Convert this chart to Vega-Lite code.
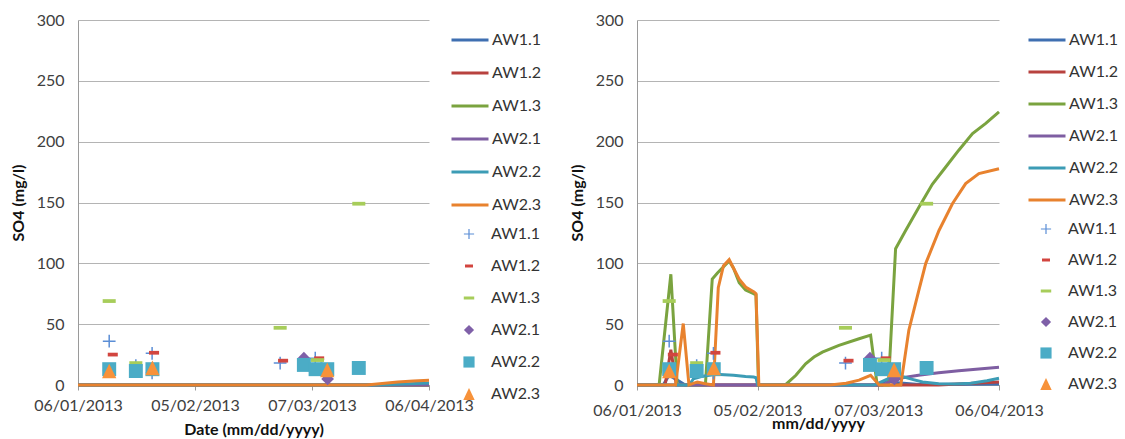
{
  "$schema": "https://vega.github.io/schema/vega-lite/v6.json",
  "background": "white",
  "padding": {"left": 10, "top": 12, "right": 2, "bottom": 4},
  "config": {
    "font": "Lato",
    "view": {"stroke": null},
    "axis": {"labelFont": "Lato", "labelFontSize": 16, "labelColor": "#404040", "titleFont": "Lato", "titleFontSize": 16, "titleFontWeight": "bold", "titleColor": "#111111", "domainColor": "#9a9a9a", "tickColor": "#9a9a9a", "gridColor": "#b4b4b4"},
    "legend": {"labelFont": "Lato", "labelFontSize": 16, "labelColor": "#333333"},
    "concat": {"spacing": 23}
  },
  "datasets": {
    "obs": [
      {"well": "AW1.1", "date": "2013-01-14T00:00:00Z", "so4": 36},
      {"well": "AW1.1", "date": "2013-01-14T00:00:00Z", "so4": 12},
      {"well": "AW1.1", "date": "2013-01-20T20:00:00Z", "so4": 16},
      {"well": "AW1.1", "date": "2013-01-25T00:00:00Z", "so4": 26},
      {"well": "AW1.1", "date": "2013-01-25T00:00:00Z", "so4": 10},
      {"well": "AW1.1", "date": "2013-02-26T20:00:00Z", "so4": 18},
      {"well": "AW1.1", "date": "2013-03-07T20:00:00Z", "so4": 22},
      {"well": "AW1.1", "date": "2013-03-11T00:00:00Z", "so4": 9},
      {"well": "AW1.2", "date": "2013-01-14T22:00:00Z", "so4": 25},
      {"well": "AW1.2", "date": "2013-01-25T12:00:00Z", "so4": 26.5},
      {"well": "AW1.2", "date": "2013-02-27T14:00:00Z", "so4": 20},
      {"well": "AW1.2", "date": "2013-03-08T20:00:00Z", "so4": 22},
      {"well": "AW1.3", "date": "2013-01-14T00:00:00Z", "so4": 69},
      {"well": "AW1.3", "date": "2013-01-20T20:00:00Z", "so4": 18},
      {"well": "AW1.3", "date": "2013-02-26T20:00:00Z", "so4": 47},
      {"well": "AW1.3", "date": "2013-03-08T10:00:00Z", "so4": 20.5},
      {"well": "AW1.3", "date": "2013-03-19T00:00:00Z", "so4": 149},
      {"well": "AW2.1", "date": "2013-03-04T22:00:00Z", "so4": 22},
      {"well": "AW2.1", "date": "2013-03-11T00:00:00Z", "so4": 5},
      {"well": "AW2.2", "date": "2013-01-14T00:00:00Z", "so4": 13},
      {"well": "AW2.2", "date": "2013-01-20T20:00:00Z", "so4": 11.5},
      {"well": "AW2.2", "date": "2013-01-25T02:00:00Z", "so4": 13},
      {"well": "AW2.2", "date": "2013-03-04T22:00:00Z", "so4": 16.5},
      {"well": "AW2.2", "date": "2013-03-07T22:00:00Z", "so4": 13},
      {"well": "AW2.2", "date": "2013-03-10T22:00:00Z", "so4": 13},
      {"well": "AW2.2", "date": "2013-03-19T00:00:00Z", "so4": 14},
      {"well": "AW2.3", "date": "2013-01-14T00:00:00Z", "so4": 11.5},
      {"well": "AW2.3", "date": "2013-01-25T02:00:00Z", "so4": 14},
      {"well": "AW2.3", "date": "2013-03-10T22:00:00Z", "so4": 12.5}
    ],
    "linesA": [
      {"well": "AW1.1", "date": "2013-01-06", "so4": 0},
      {"well": "AW1.1", "date": "2013-04-06", "so4": 0},
      {"well": "AW1.2", "date": "2013-01-06", "so4": 0},
      {"well": "AW1.2", "date": "2013-04-06", "so4": 0},
      {"well": "AW1.3", "date": "2013-01-06", "so4": 0},
      {"well": "AW1.3", "date": "2013-04-06", "so4": 0},
      {"well": "AW2.1", "date": "2013-01-06", "so4": 0},
      {"well": "AW2.1", "date": "2013-04-06", "so4": 0},
      {"well": "AW2.2", "date": "2013-01-06", "so4": 0},
      {"well": "AW2.2", "date": "2013-03-22", "so4": 0},
      {"well": "AW2.2", "date": "2013-03-27", "so4": 0.4},
      {"well": "AW2.2", "date": "2013-04-01", "so4": 1.0},
      {"well": "AW2.2", "date": "2013-04-06", "so4": 1.6},
      {"well": "AW2.3", "date": "2013-01-06", "so4": 0},
      {"well": "AW2.3", "date": "2013-03-21", "so4": 0},
      {"well": "AW2.3", "date": "2013-03-25", "so4": 1.2},
      {"well": "AW2.3", "date": "2013-03-29", "so4": 2.5},
      {"well": "AW2.3", "date": "2013-04-02", "so4": 3.3},
      {"well": "AW2.3", "date": "2013-04-06", "so4": 3.9}
    ],
    "linesB": [
      {"well": "AW1.1", "date": "2013-01-06", "so4": 0},
      {"well": "AW1.1", "date": "2013-01-12T12:00:00Z", "so4": 0},
      {"well": "AW1.1", "date": "2013-01-14", "so4": 8},
      {"well": "AW1.1", "date": "2013-01-16", "so4": 4},
      {"well": "AW1.1", "date": "2013-01-18", "so4": 0},
      {"well": "AW1.1", "date": "2013-03-07", "so4": 0},
      {"well": "AW1.1", "date": "2013-03-09", "so4": 4},
      {"well": "AW1.1", "date": "2013-03-11", "so4": 2},
      {"well": "AW1.1", "date": "2013-03-17", "so4": 0.5},
      {"well": "AW1.1", "date": "2013-04-06", "so4": 0.8},
      {"well": "AW1.2", "date": "2013-01-06", "so4": 0},
      {"well": "AW1.2", "date": "2013-01-13", "so4": 0},
      {"well": "AW1.2", "date": "2013-01-14T10:00:00Z", "so4": 29},
      {"well": "AW1.2", "date": "2013-01-15T19:00:00Z", "so4": 0},
      {"well": "AW1.2", "date": "2013-03-22", "so4": 0},
      {"well": "AW1.2", "date": "2013-04-06", "so4": 2.5},
      {"well": "AW1.3", "date": "2013-01-06", "so4": 0},
      {"well": "AW1.3", "date": "2013-01-11T12:00:00Z", "so4": 0},
      {"well": "AW1.3", "date": "2013-01-14T10:00:00Z", "so4": 91},
      {"well": "AW1.3", "date": "2013-01-16", "so4": 0},
      {"well": "AW1.3", "date": "2013-01-23", "so4": 0},
      {"well": "AW1.3", "date": "2013-01-24T17:00:00Z", "so4": 87},
      {"well": "AW1.3", "date": "2013-01-26", "so4": 92},
      {"well": "AW1.3", "date": "2013-01-28T22:00:00Z", "so4": 102},
      {"well": "AW1.3", "date": "2013-01-30", "so4": 96},
      {"well": "AW1.3", "date": "2013-01-31T10:00:00Z", "so4": 84},
      {"well": "AW1.3", "date": "2013-02-02", "so4": 78},
      {"well": "AW1.3", "date": "2013-02-04", "so4": 75},
      {"well": "AW1.3", "date": "2013-02-04T14:00:00Z", "so4": 74},
      {"well": "AW1.3", "date": "2013-02-05T05:00:00Z", "so4": 0},
      {"well": "AW1.3", "date": "2013-02-12", "so4": 0.5},
      {"well": "AW1.3", "date": "2013-02-14T12:00:00Z", "so4": 8},
      {"well": "AW1.3", "date": "2013-02-16T22:00:00Z", "so4": 17.5},
      {"well": "AW1.3", "date": "2013-02-19", "so4": 23},
      {"well": "AW1.3", "date": "2013-02-21T02:00:00Z", "so4": 27},
      {"well": "AW1.3", "date": "2013-02-25T05:00:00Z", "so4": 32.6},
      {"well": "AW1.3", "date": "2013-03-02T05:00:00Z", "so4": 38},
      {"well": "AW1.3", "date": "2013-03-05T02:00:00Z", "so4": 41},
      {"well": "AW1.3", "date": "2013-03-06T17:00:00Z", "so4": 0},
      {"well": "AW1.3", "date": "2013-03-09T12:00:00Z", "so4": 0},
      {"well": "AW1.3", "date": "2013-03-11T07:00:00Z", "so4": 112},
      {"well": "AW1.3", "date": "2013-03-13T19:00:00Z", "so4": 127},
      {"well": "AW1.3", "date": "2013-03-17T02:00:00Z", "so4": 146},
      {"well": "AW1.3", "date": "2013-03-20T10:00:00Z", "so4": 165},
      {"well": "AW1.3", "date": "2013-03-23T17:00:00Z", "so4": 179},
      {"well": "AW1.3", "date": "2013-03-27", "so4": 193},
      {"well": "AW1.3", "date": "2013-03-30T10:00:00Z", "so4": 206.6},
      {"well": "AW1.3", "date": "2013-04-02T17:00:00Z", "so4": 215},
      {"well": "AW1.3", "date": "2013-04-06", "so4": 224.5},
      {"well": "AW2.1", "date": "2013-01-06", "so4": 0},
      {"well": "AW2.1", "date": "2013-03-08", "so4": 0},
      {"well": "AW2.1", "date": "2013-03-10", "so4": 3},
      {"well": "AW2.1", "date": "2013-03-13", "so4": 6},
      {"well": "AW2.1", "date": "2013-03-17", "so4": 8},
      {"well": "AW2.1", "date": "2013-03-22", "so4": 10},
      {"well": "AW2.1", "date": "2013-03-27", "so4": 11.7},
      {"well": "AW2.1", "date": "2013-04-01", "so4": 13.2},
      {"well": "AW2.1", "date": "2013-04-06", "so4": 14.5},
      {"well": "AW2.2", "date": "2013-01-06", "so4": 0},
      {"well": "AW2.2", "date": "2013-01-19", "so4": 0},
      {"well": "AW2.2", "date": "2013-01-20", "so4": 5},
      {"well": "AW2.2", "date": "2013-01-22", "so4": 7},
      {"well": "AW2.2", "date": "2013-01-25T14:00:00Z", "so4": 8.8},
      {"well": "AW2.2", "date": "2013-01-30", "so4": 8},
      {"well": "AW2.2", "date": "2013-02-02", "so4": 7},
      {"well": "AW2.2", "date": "2013-02-04", "so4": 6.5},
      {"well": "AW2.2", "date": "2013-02-04T14:00:00Z", "so4": 6},
      {"well": "AW2.2", "date": "2013-02-05", "so4": 0},
      {"well": "AW2.2", "date": "2013-03-06", "so4": 0},
      {"well": "AW2.2", "date": "2013-03-08", "so4": 3},
      {"well": "AW2.2", "date": "2013-03-10", "so4": 6},
      {"well": "AW2.2", "date": "2013-03-13", "so4": 7},
      {"well": "AW2.2", "date": "2013-03-15", "so4": 5},
      {"well": "AW2.2", "date": "2013-03-18", "so4": 2.5},
      {"well": "AW2.2", "date": "2013-03-22", "so4": 1},
      {"well": "AW2.2", "date": "2013-03-26", "so4": 0.8},
      {"well": "AW2.2", "date": "2013-03-30", "so4": 1.5},
      {"well": "AW2.2", "date": "2013-04-03", "so4": 3.5},
      {"well": "AW2.2", "date": "2013-04-06", "so4": 5.5},
      {"well": "AW2.3", "date": "2013-01-06", "so4": 0},
      {"well": "AW2.3", "date": "2013-01-15T14:00:00Z", "so4": 0},
      {"well": "AW2.3", "date": "2013-01-17T12:00:00Z", "so4": 50.5},
      {"well": "AW2.3", "date": "2013-01-18T22:00:00Z", "so4": 0},
      {"well": "AW2.3", "date": "2013-01-21", "so4": 2.5},
      {"well": "AW2.3", "date": "2013-01-23", "so4": 1},
      {"well": "AW2.3", "date": "2013-01-25", "so4": 0},
      {"well": "AW2.3", "date": "2013-01-26T05:00:00Z", "so4": 80},
      {"well": "AW2.3", "date": "2013-01-27T12:00:00Z", "so4": 98},
      {"well": "AW2.3", "date": "2013-01-28T22:00:00Z", "so4": 103},
      {"well": "AW2.3", "date": "2013-01-30", "so4": 96},
      {"well": "AW2.3", "date": "2013-01-31T10:00:00Z", "so4": 87},
      {"well": "AW2.3", "date": "2013-02-02", "so4": 80.5},
      {"well": "AW2.3", "date": "2013-02-04T02:00:00Z", "so4": 76.5},
      {"well": "AW2.3", "date": "2013-02-04T14:00:00Z", "so4": 75},
      {"well": "AW2.3", "date": "2013-02-05T07:00:00Z", "so4": 0},
      {"well": "AW2.3", "date": "2013-02-23", "so4": 0},
      {"well": "AW2.3", "date": "2013-02-27", "so4": 1.5},
      {"well": "AW2.3", "date": "2013-03-02T05:00:00Z", "so4": 4},
      {"well": "AW2.3", "date": "2013-03-05T02:00:00Z", "so4": 8},
      {"well": "AW2.3", "date": "2013-03-07T05:00:00Z", "so4": 0},
      {"well": "AW2.3", "date": "2013-03-12T14:00:00Z", "so4": 0},
      {"well": "AW2.3", "date": "2013-03-14T14:00:00Z", "so4": 45},
      {"well": "AW2.3", "date": "2013-03-17T02:00:00Z", "so4": 78},
      {"well": "AW2.3", "date": "2013-03-18T19:00:00Z", "so4": 100},
      {"well": "AW2.3", "date": "2013-03-22T02:00:00Z", "so4": 127},
      {"well": "AW2.3", "date": "2013-03-25T10:00:00Z", "so4": 149},
      {"well": "AW2.3", "date": "2013-03-28T17:00:00Z", "so4": 165.5},
      {"well": "AW2.3", "date": "2013-04-01", "so4": 173.7},
      {"well": "AW2.3", "date": "2013-04-06", "so4": 177.8}
    ]
  },
  "hconcat": [
    {
      "width": 351,
      "height": 365,
      "layer": [
        {
          "data": {"name": "linesA"},
          "mark": {"type": "line", "strokeWidth": 3},
          "encoding": {
            "x": {"field": "date", "type": "temporal", "scale": {"type": "utc", "domain": [{"year": 2013, "month": 1, "date": 6, "utc": true}, {"year": 2013, "month": 4, "date": 6, "utc": true}]},
              "axis": {"values": [{"year": 2013, "month": 1, "date": 6, "utc": true}, {"year": 2013, "month": 2, "date": 5, "utc": true}, {"year": 2013, "month": 3, "date": 7, "utc": true}, {"year": 2013, "month": 4, "date": 6, "utc": true}], "format": "%d/%m/%Y", "grid": false, "tickSize": 5, "labelPadding": 7, "labelOverlap": false, "labelFlush": false, "labelBound": false, "title": "Date (mm/dd/yyyy)", "titlePadding": 8}},
            "y": {"field": "so4", "type": "quantitative", "scale": {"domain": [0, 300]},
              "axis": {"values": [0, 50, 100, 150, 200, 250, 300], "grid": true, "ticks": false, "labelPadding": 14, "title": "SO4 (mg/l)", "titlePadding": 10}},
            "color": {"field": "well", "type": "nominal", "scale": {"domain": ["AW1.1", "AW1.2", "AW1.3", "AW2.1", "AW2.2", "AW2.3"], "range": ["#3f6fb1", "#b8423f", "#7aa33f", "#7e5ea2", "#3c9cb5", "#e8822e"]},
              "legend": {"title": null, "orient": "right", "offset": 15, "symbolType": "stroke", "symbolStrokeWidth": 3, "symbolSize": 1369, "labelOffset": 2, "rowPadding": 5}}
          }
        },
        {
          "data": {"name": "obs"},
          "mark": {"type": "point", "filled": true, "opacity": 1, "size": 225},
          "encoding": {
            "x": {"field": "date", "type": "temporal"},
            "y": {"field": "so4", "type": "quantitative"},
            "color": {"field": "well", "type": "nominal", "scale": {"domain": ["AW1.1", "AW1.2", "AW1.3", "AW2.1", "AW2.2", "AW2.3"], "range": ["#5b8ed6", "#d2453f", "#a7cd5a", "#7f60a8", "#4bacc6", "#f7923a"]},
              "legend": {"title": null, "orient": "right", "offset": 15, "padding": 5, "symbolSize": 144, "symbolOffset": 6, "labelOffset": 14, "rowPadding": 16}},
            "shape": {"field": "well", "type": "nominal", "scale": {"domain": ["AW1.1", "AW1.2", "AW1.3", "AW2.1", "AW2.2", "AW2.3"], "range": ["M-0.85,-0.1H-0.1V-0.85H0.1V-0.1H0.85V0.1H0.1V0.85H-0.1V0.1H-0.85Z", "M-0.67,-0.25H0.67V0.25H-0.67Z", "M-0.87,-0.25H0.87V0.25H-0.87Z", "M0,-0.85L0.85,0L0,0.85L-0.85,0Z", "M-0.93,-0.93H0.93V0.93H-0.93Z", "M0,-0.98L0.95,0.98L-0.95,0.98Z"]},
              "legend": {"title": null, "orient": "right", "offset": 15, "padding": 5, "symbolSize": 144, "symbolOffset": 6, "labelOffset": 14, "rowPadding": 16}}
          }
        }
      ],
      "resolve": {"scale": {"color": "independent", "shape": "independent"}}
    },
    {
      "width": 362,
      "height": 365,
      "layer": [
        {
          "data": {"name": "linesB"},
          "mark": {"type": "line", "strokeWidth": 3},
          "encoding": {
            "x": {"field": "date", "type": "temporal", "scale": {"type": "utc", "domain": [{"year": 2013, "month": 1, "date": 6, "utc": true}, {"year": 2013, "month": 4, "date": 6, "utc": true}]},
              "axis": {"values": [{"year": 2013, "month": 1, "date": 6, "utc": true}, {"year": 2013, "month": 2, "date": 5, "utc": true}, {"year": 2013, "month": 3, "date": 7, "utc": true}, {"year": 2013, "month": 4, "date": 6, "utc": true}], "format": "%d/%m/%Y", "grid": false, "tickSize": 5, "labelPadding": 12, "labelOverlap": false, "labelFlush": false, "labelBound": false, "title": "mm/dd/yyyy", "titlePadding": -3}},
            "y": {"field": "so4", "type": "quantitative", "scale": {"domain": [0, 300]},
              "axis": {"values": [0, 50, 100, 150, 200, 250, 300], "grid": true, "ticks": false, "labelPadding": 14, "title": "SO4 (mg/l)", "titlePadding": 10}},
            "color": {"field": "well", "type": "nominal", "scale": {"domain": ["AW1.1", "AW1.2", "AW1.3", "AW2.1", "AW2.2", "AW2.3"], "range": ["#3f6fb1", "#b8423f", "#7aa33f", "#7e5ea2", "#3c9cb5", "#e8822e"]},
              "legend": {"title": null, "orient": "right", "offset": 22, "symbolType": "stroke", "symbolStrokeWidth": 3, "symbolSize": 1369, "labelOffset": 2, "rowPadding": 4}}
          }
        },
        {
          "data": {"name": "obs"},
          "mark": {"type": "point", "filled": true, "opacity": 1, "size": 225},
          "encoding": {
            "x": {"field": "date", "type": "temporal"},
            "y": {"field": "so4", "type": "quantitative"},
            "color": {"field": "well", "type": "nominal", "scale": {"domain": ["AW1.1", "AW1.2", "AW1.3", "AW2.1", "AW2.2", "AW2.3"], "range": ["#5b8ed6", "#d2453f", "#a7cd5a", "#7f60a8", "#4bacc6", "#f7923a"]},
              "legend": {"title": null, "orient": "right", "offset": 22, "padding": 5, "symbolSize": 144, "symbolOffset": 6, "labelOffset": 14, "rowPadding": 15}},
            "shape": {"field": "well", "type": "nominal", "scale": {"domain": ["AW1.1", "AW1.2", "AW1.3", "AW2.1", "AW2.2", "AW2.3"], "range": ["M-0.85,-0.1H-0.1V-0.85H0.1V-0.1H0.85V0.1H0.1V0.85H-0.1V0.1H-0.85Z", "M-0.67,-0.25H0.67V0.25H-0.67Z", "M-0.87,-0.25H0.87V0.25H-0.87Z", "M0,-0.85L0.85,0L0,0.85L-0.85,0Z", "M-0.93,-0.93H0.93V0.93H-0.93Z", "M0,-0.98L0.95,0.98L-0.95,0.98Z"]},
              "legend": {"title": null, "orient": "right", "offset": 22, "padding": 5, "symbolSize": 144, "symbolOffset": 6, "labelOffset": 14, "rowPadding": 15}}
          }
        }
      ],
      "resolve": {"scale": {"color": "independent", "shape": "independent"}}
    }
  ],
  "resolve": {"scale": {"color": "independent", "shape": "independent"}}
}
